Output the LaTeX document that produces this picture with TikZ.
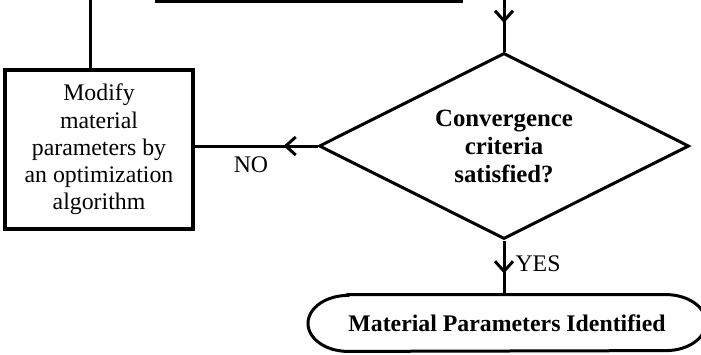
\documentclass[tikz,border=0pt]{standalone}
\usepackage{fontspec}
\setmainfont{Liberation Serif}
\usetikzlibrary{shapes.geometric,arrows.meta,decorations.markings}
\begin{document}
\begin{tikzpicture}[x=0.5pt,y=-0.5pt,
  >={Straight Barb[length=5pt,width=9pt,line width=1.5pt]},
  line/.style={line width=1.5pt},
  procbox/.style={draw,line width=1.9pt,minimum width=94pt,minimum height=79.5pt,inner sep=0pt,align=center,font=\fontsize{11.9pt}{13.6pt}\selectfont},
  decision/.style={draw,diamond,aspect=2,line width=1.5pt,minimum width=185pt,minimum height=93pt,inner sep=0pt,align=center,font=\fontsize{12.4pt}{14pt}\selectfont\bfseries},
  termtext/.style={inner sep=0pt,minimum width=150pt,minimum height=28pt,font=\fontsize{11.9pt}{14pt}\selectfont\bfseries},
  lbl/.style={inner sep=0pt,font=\fontsize{11.9pt}{14pt}\selectfont},
  arrowat/.style={postaction={decorate},decoration={markings,mark=at position #1 with {\arrow{>}}}}
]
\useasboundingbox (0,0) rectangle (701,354);

\node[procbox] (b) at (99,149.5) {Modify\\material\\parameters by\\an optimization\\algorithm};
\node[decision] (d) at (504,146) {Convergence\\criteria\\satisfied?};
\node[termtext] (t) at (507,323) {Material Parameters Identified};

\coordinate (tl) at (155,1);
\coordinate (tr) at (463,1);
\coordinate (lt) at (90,0);
\coordinate (dt) at (504,0);

% outline of terminal
\draw[line] (t.north west) -- (t.north east)
  arc[start angle=90,end angle=-90,x radius=20pt,y radius=14pt]
  -- (t.south west)
  arc[start angle=270,end angle=90,x radius=20pt,y radius=14pt] -- cycle;

% cropped connectors at top
\draw[line] (tl) -- (tr);
\draw[line] (lt) -- (lt |- b.north);
\draw[line,arrowat=11.5pt] (dt) -- (d.north);

% NO branch
\draw[line,arrowat=17pt] (d.west) -- (d.west -| b.east);
\node[lbl] (no) at (251,165) {NO};

% YES branch
\draw[line,arrowat=16.5pt] (d.south) -- (d.south |- t.north);
\node[lbl] (yes) at (538,264) {YES};
\end{tikzpicture}
\end{document}
